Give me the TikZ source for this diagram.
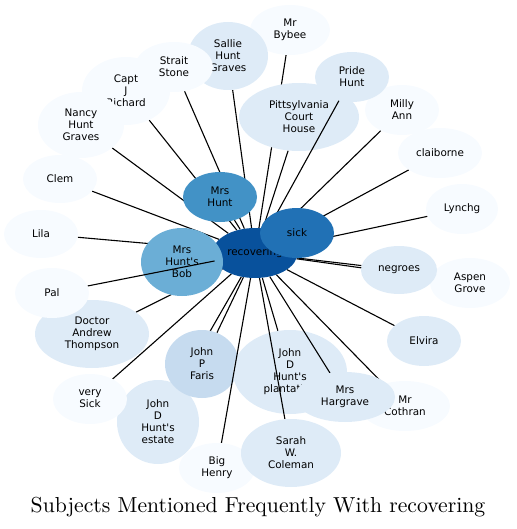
\documentclass[tikz,border=0pt]{standalone}
\usepackage{fontspec}
\newfontfamily\labelfont{DejaVu Sans}
\newfontfamily\titlefont{lmroman10-regular}[Extension=.otf]
\usetikzlibrary{shapes.geometric}
\pgfdeclarelayer{lowedges}
\pgfdeclarelayer{lownodes}
\pgfdeclarelayer{highedges}
\pgfsetlayers{lowedges,lownodes,highedges,main}
\definecolor{blue0}{HTML}{F7FBFF}
\definecolor{blue1}{HTML}{DEEBF7}
\definecolor{blue2}{HTML}{C6DBEF}
\definecolor{blue4}{HTML}{6BAED6}
\definecolor{blue5}{HTML}{4292C6}
\definecolor{blue6}{HTML}{2171B5}
\definecolor{blue7}{HTML}{08519C}
\begin{document}
\begin{tikzpicture}[x=1pt, y=-1pt,
    subj/.style={ellipse, inner sep=0pt, align=center, fill=blue0,
      font=\labelfont\fontsize{10.4}{12}\selectfont,
      minimum width=74pt, minimum height=50pt},
    link/.style={line width=1.1pt}]
  \useasboundingbox (0,0) rectangle (516,529);
  %
  \begin{pgfonlayer}{lownodes}  % nodes that some edges cross
    \node[subj, fill=blue7, minimum width=85pt] (rec) at (255,253) {recovering};
    \node[subj, fill=blue4, minimum width=82pt, minimum height=68pt] (bob) at (182,262) {Mrs\\Hunt\textquotesingle s\\Bob};
    \node[subj, fill=blue1, minimum width=82pt, minimum height=84pt] (estate) at (158,422) {John\\D\\Hunt\textquotesingle s\\estate};
    \node[subj, fill=blue2, minimum width=74pt, minimum height=68pt] (faris) at (202,364) {John\\P\\Faris};
    \node[subj, fill=blue1, minimum width=114pt, minimum height=84pt] (plantation) at (290,372) {John\\D\\Hunt\textquotesingle s\\plantation};
    \node[subj, fill=blue1, minimum width=120pt, minimum height=68pt] (courthouse) at (299,117) {Pittsylvania\\Court\\House};
  \end{pgfonlayer}
  %
  \node[subj, minimum width=80pt] (bybee) at (290,30) {Mr\\Bybee};           % top
  \node[subj, fill=blue1, minimum width=80pt, minimum height=68pt] (sallie) at (228,56) {Sallie\\Hunt\\Graves};
  \node[subj, minimum width=88pt, minimum height=68pt] (capt) at (126,91) {Capt\\J\\Richard};
  \node[subj, minimum width=78pt] (strait) at (174,67) {Strait\\Stone};
  \node[subj, minimum width=86pt, minimum height=66pt] (nancy) at (81,125) {Nancy\\Hunt\\Graves};
  \node[subj, minimum height=48pt] (clem) at (60,179) {Clem};                % left
  \node[subj, minimum height=48pt] (lila) at (41,234) {Lila};
  \node[subj, fill=blue5] (mrshunt) at (220,197) {Mrs\\Hunt};
  %%
  \node[subj] (milly) at (402,110) {Milly\\Ann};                             % right
  \node[subj, fill=blue1] (pride) at (352,77) {Pride\\Hunt};
  \node[subj, minimum width=84pt] (claiborne) at (440,153) {claiborne};
  \node[subj, minimum width=72pt] (lynchg) at (462,209) {Lynchg};
  \node[subj, fill=blue6] (sick) at (297,233) {sick};
  \node[subj, minimum width=80pt] (aspen) at (470,283) {Aspen\\Grove};
  \node[subj, fill=blue1, minimum width=76pt, minimum height=48pt] (negroes) at (399,270) {negroes};
  \node[subj, fill=blue1] (elvira) at (424,341) {Elvira};
  %%
  \node[subj, fill=blue1, minimum width=114pt, minimum height=68pt] (doctor) at (92,334) {Doctor\\Andrew\\Thompson}; % bottom
  \node[subj] (pal) at (52,293) {Pal};
  \node[subj] (verysick) at (90,399) {very\\Sick};
  \node[subj, minimum width=76pt] (henry) at (217,468) {Big\\Henry};
  \node[subj, fill=blue1, minimum width=100pt, minimum height=68pt] (sarah) at (291,453) {Sarah\\W.\\Coleman};
  \node[subj, minimum width=90pt] (cothran) at (405,406) {Mr\\Cothran};
  \node[subj, fill=blue1, minimum width=100pt] (hargrave) at (345,397) {Mrs\\Hargrave};
  %
  \begin{pgfonlayer}{lowedges}  % edges under the nodes
    \foreach \t in {bybee, sallie, capt, strait, nancy, clem, lila, mrshunt,
        milly, claiborne, lynchg, sick, aspen, negroes, elvira, doctor,
        verysick, estate, faris, plantation, courthouse}
      \draw[link] (rec) -- (\t);
  \end{pgfonlayer}
  \begin{pgfonlayer}{highedges} % edges over the first nodes
    \foreach \t in {pride, pal, henry, sarah, hargrave, cothran}
      \draw[link] (rec) -- (\t);
  \end{pgfonlayer}
  %
  \node[font=\titlefont\fontsize{21.7}{26}\selectfont] (title) at (258,507) {Subjects Mentioned Frequently With recovering};
\end{tikzpicture}
\end{document}
